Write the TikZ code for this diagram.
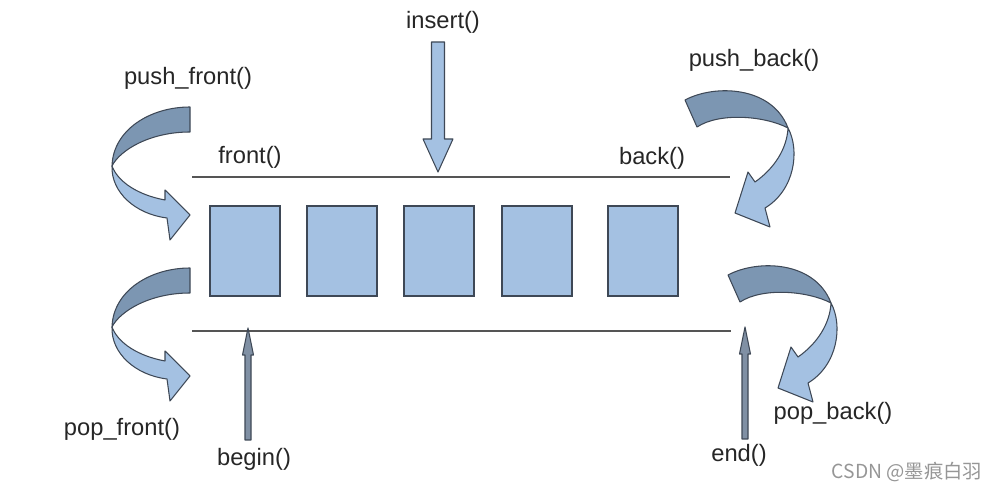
\documentclass[tikz,border=0pt]{standalone}
\usepackage{fontspec}
\setmainfont{Liberation Sans}
\newfontfamily\cjkfont{Noto Sans CJK SC}
\usepackage{tikz}
\usetikzlibrary{calc}
\definecolor{clair}{RGB}{164,193,226}
\definecolor{fonce}{RGB}{124,150,178}
\definecolor{trait}{RGB}{62,72,86}
\definecolor{regle}{RGB}{85,85,85}
\definecolor{tige}{RGB}{128,144,164}
\definecolor{texte}{RGB}{38,38,38}
\definecolor{filigrane}{RGB}{150,150,150}
\tikzset{
	ruban/.style={draw=trait,line width=0.6pt,line join=round},
	cellule/.style={draw=trait,fill=clair,line width=1.1pt,minimum width=1.4cm,minimum height=1.8cm,inner sep=0pt},
	lib/.style={text=texte,inner sep=0pt},
	bord/.style={regle,line width=0.9pt}
}
\newcommand{\virageg}{%
	\filldraw[ruban,fill=fonce](190,107) .. controls (150,107) and (113,130) .. (112,166) .. controls (120,150) and (150,132) .. (190,132) -- cycle;
	\filldraw[ruban,fill=clair](112,166) .. controls (111,192) and (135,214) .. (167,218) -- (170,240) -- (190,215) -- (165,190) -- (165,200) .. controls (138,195) and (118,182) .. (112,166) -- cycle;}
\newcommand{\virated}{%
	\filldraw[ruban,fill=fonce](685,100) .. controls (715,84) and (772,86) .. (788,128) .. controls (765,116) and (720,112) .. (697,127) -- cycle;
	\filldraw[ruban,fill=clair](788,128) .. controls (800,150) and (795,190) .. (765,208) -- (770,227) -- (735,213) -- (748,172) -- (755,182) .. controls (775,168) and (787,148) .. (788,128) -- cycle;}
\begin{document}
\begin{tikzpicture}[x=0.02cm,y=-0.02cm,font=\fontsize{13.5}{16}\selectfont]
					\useasboundingbox (0,0) rectangle (996,492);
					\draw[bord](192,177)--(730,177);
					\draw[bord](192,331)--(731,331);
					\foreach \cx [count=\i] in {245,342,439,537,643}
						\node[cellule] (c\i) at (\cx,251){};
					\begin{scope}\virageg\end{scope}
					\begin{scope}[shift={(0,161)}]\virageg\end{scope}
					\begin{scope}\virated\end{scope}
					\begin{scope}[shift={(43,175)}]\virated\end{scope}
					\coordinate (pointeIns) at (438,172);
					\filldraw[ruban,fill=clair](pointeIns)--++(15,-33)--++(-8.5,0)--++(0,-97)--++(-13,0)--++(0,97)--++(-8.5,0)--cycle;
					\coordinate (pointeDeb) at (248,328);
					\filldraw[ruban,fill=tige](pointeDeb)--++(5.5,27)--++(-2.5,0)--++(0,85)--++(-6,0)--++(0,-85)--++(-2.5,0)--cycle;
					\coordinate (pointeFin) at (745,327);
					\filldraw[ruban,fill=tige](pointeFin)--++(5.5,27)--++(-2.5,0)--++(0,85)--++(-6,0)--++(0,-85)--++(-2.5,0)--cycle;
					\node[lib] (ins) at (443,22){insert()};
					\node[lib] (pushf) at (188,78){push\_front()};
					\node[lib] (popf) at (122,429){pop\_front()};
					\node[lib] (pushb) at (754,60){push\_back()};
					\node[lib] (popb) at (833,413){pop\_back()};
					\node[lib] (front) at (250,157){front()};
					\node[lib] (back) at (652,158){back()};
					\node[lib] (deb) at (254,459){begin()};
					\node[lib] (fin) at (739,455){end()};
					\node[filigrane,inner sep=0pt,font=\cjkfont\fontsize{11}{13}\selectfont] (marque) at (907,472){CSDN @墨痕白羽};
				\end{tikzpicture}
\end{document}
